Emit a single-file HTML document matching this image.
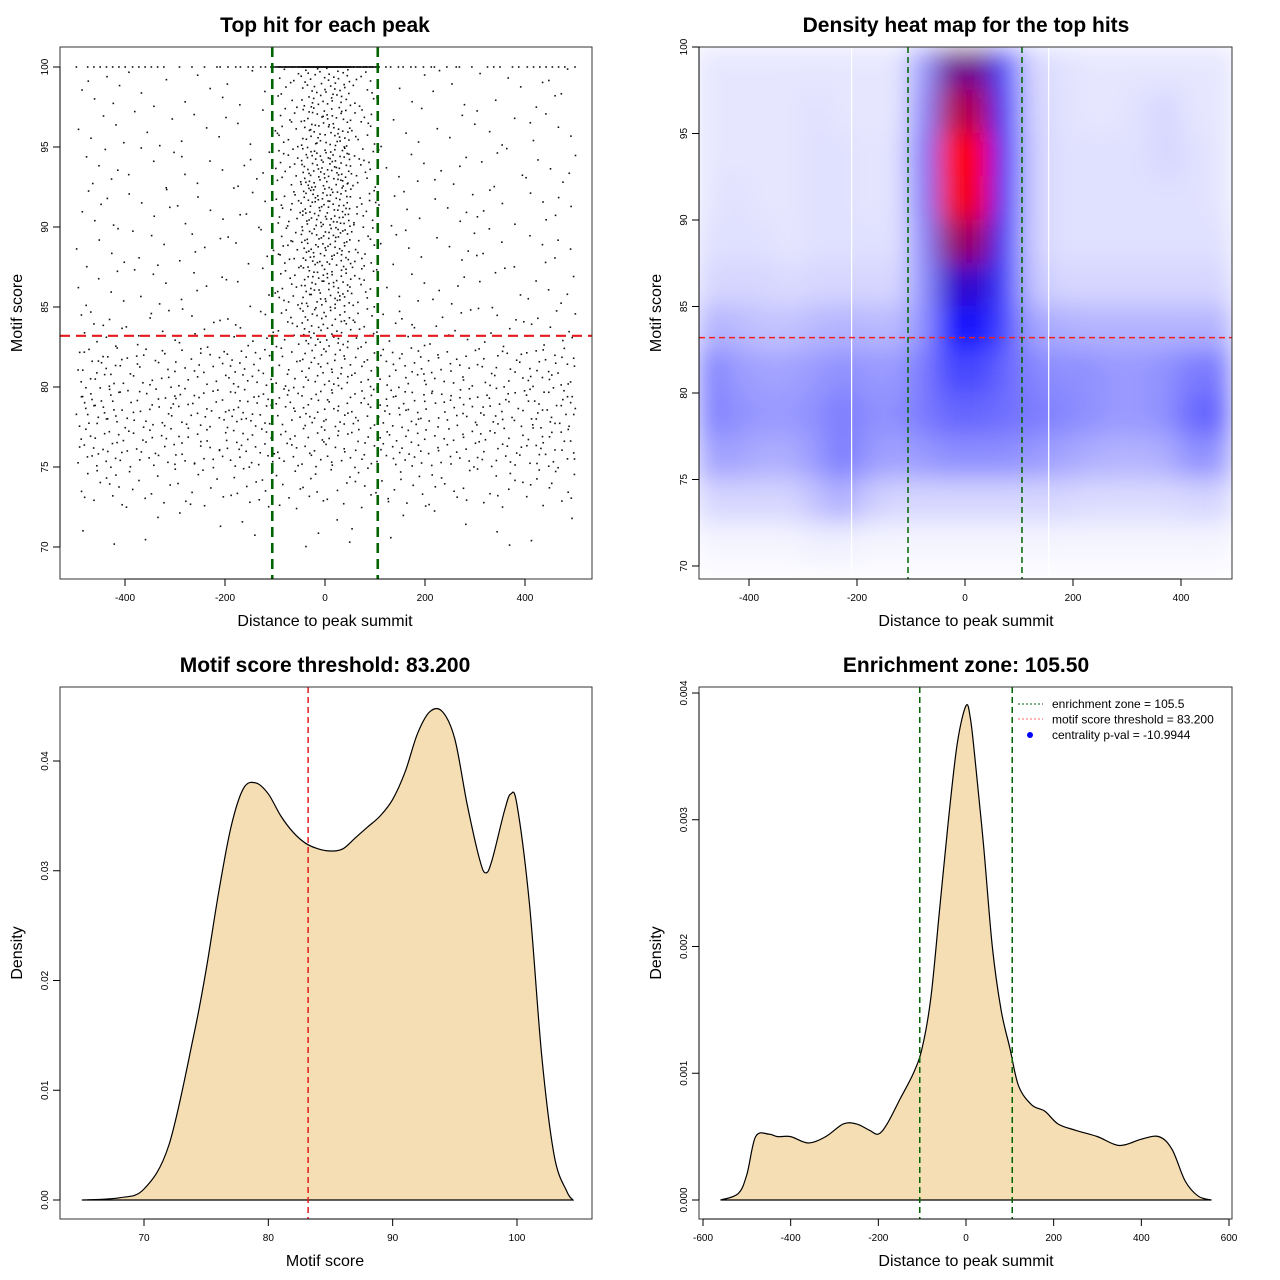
<!DOCTYPE html>
<html><head><meta charset="utf-8"><style>
html,body{margin:0;padding:0;background:#fff;}
svg{display:block;font-family:"Liberation Sans",sans-serif;}
</style></head><body>
<svg id="chart" width="1280" height="1280" viewBox="0 0 1280 1280">
<defs>
<filter id="blur" x="-5%" y="-5%" width="110%" height="110%"><feGaussianBlur stdDeviation="13"/></filter>
<clipPath id="clip2"><rect x="699" y="47" width="533" height="532"/></clipPath>
</defs>
</svg>
<script>
// ---------- DATA ----------
const scatterXEdges = [-500,-400,-300,-200,-100,-50,0,50,100,200,300,400,500];
const scatterYBins = [97.5,95,92.5,90,87.5,85,82.5,80,77.5,75,72.5,70];
const scatterCounts = [
 [6,4,4,4,10,25,28,10,4,4,4,6],
 [5,4,4,5,12,30,32,12,5,4,4,5],
 [6,5,5,6,15,38,40,15,6,5,5,6],
 [6,5,5,6,15,40,40,15,6,5,5,6],
 [6,5,5,6,14,36,36,14,6,5,5,6],
 [6,5,5,6,13,32,32,13,6,5,5,6],
 [10,8,8,10,12,24,24,12,10,8,8,10],
 [25,20,20,25,12,18,18,12,25,20,20,25],
 [30,25,25,28,14,16,16,14,28,25,25,30],
 [25,22,22,25,12,13,13,12,25,22,22,25],
 [12,10,10,12,6,6,6,6,12,10,10,12],
 [2,2,2,2,1,2,2,1,2,2,2,2]
];
const scatterTopRow = [8,6,5,8,20,40,40,20,8,6,5,8];
const heatXBins = [-500,-450,-400,-350,-300,-250,-200,-150,-100,-50,0,50,100,150,200,250,300,350,400,450];
const heatYBins = [97.5,95,92.5,90,87.5,85,82.5,80,77.5,75,72.5,70];
const heatValues = [
 [.05,.05,.05,.05,.05,.05,.05,.05,.2,.72,.72,.35,.08,.06,.05,.05,.05,.05,.05,.05],
 [.05,.05,.05,.05,.06,.05,.05,.05,.24,.85,.85,.4,.09,.06,.05,.05,.06,.08,.05,.05],
 [.05,.05,.05,.05,.06,.06,.05,.06,.28,1,1,.45,.1,.06,.06,.06,.06,.08,.06,.05],
 [.05,.06,.05,.05,.06,.06,.05,.06,.27,.98,.98,.44,.1,.06,.06,.06,.06,.06,.06,.05],
 [.06,.06,.06,.05,.06,.06,.06,.06,.24,.8,.8,.4,.1,.06,.06,.06,.06,.06,.06,.06],
 [.08,.08,.08,.07,.08,.08,.08,.08,.22,.6,.6,.38,.12,.08,.08,.08,.08,.08,.08,.08],
 [.15,.14,.12,.12,.14,.15,.14,.14,.22,.48,.48,.36,.18,.16,.15,.15,.15,.15,.15,.15],
 [.25,.2,.18,.18,.2,.22,.2,.2,.26,.36,.36,.3,.24,.22,.22,.2,.2,.22,.26,.26],
 [.25,.22,.2,.2,.22,.26,.22,.22,.26,.3,.3,.28,.26,.24,.22,.2,.2,.22,.3,.3],
 [.18,.18,.16,.16,.2,.26,.2,.18,.2,.22,.22,.22,.2,.18,.16,.15,.15,.16,.22,.2],
 [.08,.08,.08,.08,.12,.16,.1,.08,.08,.08,.08,.08,.08,.08,.07,.07,.07,.07,.08,.08],
 [.02,.02,.02,.02,.03,.03,.02,.02,.02,.02,.02,.02,.02,.02,.02,.02,.02,.02,.02,.02]
];
const scoreX = [65,68,70,72,74,75,76,77,78,79,80,81,82,83,84,85,86,87,88,89,90,91,92,93,94,95,96,97,97.5,98,99,99.5,100,101,102,103,104,104.5];
const scoreDensity = [0,0.0002,0.001,0.005,0.015,0.021,0.028,0.034,0.0375,0.038,0.037,0.035,0.0335,0.0325,0.032,0.0318,0.032,0.033,0.034,0.035,0.0365,0.039,0.0425,0.0445,0.0445,0.042,0.036,0.031,0.0298,0.031,0.0355,0.037,0.036,0.027,0.013,0.004,0.0008,0];
const distX = [-560,-520,-500,-480,-450,-430,-400,-360,-320,-280,-250,-220,-200,-180,-150,-120,-100,-80,-60,-40,-20,0,10,20,40,60,80,100,120,150,180,210,250,300,350,400,440,470,500,530,560];
const distDensity = [0,0.00005,0.0002,0.0005,0.00052,0.0005,0.0005,0.00045,0.0005,0.0006,0.0006,0.00055,0.00052,0.0006,0.0008,0.001,0.0012,0.0016,0.0023,0.003,0.0036,0.0039,0.0038,0.0035,0.0028,0.002,0.0015,0.0012,0.0009,0.00075,0.0007,0.0006,0.00055,0.0005,0.00043,0.00048,0.0005,0.0004,0.00015,0.00003,0];
const threshold = 83.2;
const zone = 105.5;
const ticksDistP1 = [-400,-200,0,200,400];
const ticksScoreY = [70,75,80,85,90,95,100];
const ticksScoreX = [70,80,90,100];
const ticksDensY3 = [0,0.01,0.02,0.03,0.04];
const ticksDistP4 = [-600,-400,-200,0,200,400,600];
const ticksDensY4 = [0,0.001,0.002,0.003,0.004];

// ---------- HELPERS ----------
const svg = document.getElementById('chart');
const NS = 'http://www.w3.org/2000/svg';
function mk(tag, attrs, parent){const e=document.createElementNS(NS,tag);for(const k in attrs)e.setAttribute(k,attrs[k]);(parent||svg).appendChild(e);return e;}
function lin(d0,d1,r0,r1){return v=>r0+(v-d0)*(r1-r0)/(d1-d0);}
function halton(i,b){let f=1,r=0;while(i>0){f/=b;r+=f*(i%b);i=Math.floor(i/b);}return r;}
function smoothPath(pts){let d='M'+pts[0][0]+','+pts[0][1];for(let i=0;i<pts.length-1;i++){const p0=pts[Math.max(0,i-1)],p1=pts[i],p2=pts[i+1],p3=pts[Math.min(pts.length-1,i+2)];const c1=[p1[0]+(p2[0]-p0[0])/6,p1[1]+(p2[1]-p0[1])/6],c2=[p2[0]-(p3[0]-p1[0])/6,p2[1]-(p3[1]-p1[1])/6];d+=' C'+c1[0]+','+c1[1]+' '+c2[0]+','+c2[1]+' '+p2[0]+','+p2[1];}return d;}
function text(str,x,y,size,opts){const t=mk('text',Object.assign({x:x,y:y,'font-size':size,'text-anchor':'middle',fill:'#000'},opts||{}));t.textContent=str;return t;}
function frame(x,y,w,h,name){const r=mk('rect',{x:x,y:y,width:w,height:h,fill:'none',stroke:'#333','stroke-width':1});}
function xAxis(ticks,sx,y0,name,fmt){const g=mk('g',{});
 mk('line',{x1:sx(ticks[0]),x2:sx(ticks[ticks.length-1]),y1:y0,y2:y0,stroke:'#000'},g);
 ticks.forEach(t=>{mk('line',{x1:sx(t),x2:sx(t),y1:y0,y2:y0+7,stroke:'#000'},g);const l=text(fmt?fmt(t):String(t),sx(t),y0+22,10,{});g.appendChild(l);});}
function yAxis(ticks,sy,x0,name,fmt){const g=mk('g',{});
 mk('line',{x1:x0,x2:x0,y1:sy(ticks[0]),y2:sy(ticks[ticks.length-1]),stroke:'#000'},g);
 ticks.forEach(t=>{mk('line',{x1:x0,x2:x0-7,y1:sy(t),y2:sy(t),stroke:'#000'},g);const l=text(fmt?fmt(t):String(t),0,0,10,{transform:'translate('+(x0-12)+','+sy(t)+') rotate(-90)'});g.appendChild(l);});}
function titles(t,cx,ty,xl,xly,yl,ylx,cy){let e=text(t,cx,ty,21,{'font-weight':'bold'});
 e=text(xl,cx,xly,16,{});
 e=text(yl,0,0,16,{transform:'translate('+ylx+','+cy+') rotate(-90)'});}

// ---------- PANEL 1: scatter ----------
{
 const sx=lin(0,400,325,525), sy=lin(70,100,547,67);
 const g=mk('g',{});
 let k=1;
 scatterCounts.forEach((row,ri)=>row.forEach((n,ci)=>{const x0=scatterXEdges[ci],w=scatterXEdges[ci+1]-x0;for(let i=0;i<n;i++){k++;const x=x0+w*halton(k,2),y=scatterYBins[ri]+2.5*halton(k,3);
  mk('rect',{x:sx(x),y:sy(y),width:1.6,height:1.6,fill:'#111'},g);}}));
 scatterTopRow.forEach((n,ci)=>{const x0=scatterXEdges[ci],w=scatterXEdges[ci+1]-x0;for(let i=0;i<n;i++){k++;const x=x0+w*halton(k,2);mk('rect',{x:sx(x),y:sy(100)-0.8,width:1.6,height:1.6,fill:'#111'},g);}});
 mk('line',{x1:sx(-110),x2:sx(110),y1:sy(100),y2:sy(100),stroke:'#111','stroke-width':1.5},g);
 let l=mk('line',{x1:60,x2:592,y1:sy(threshold),y2:sy(threshold),stroke:'#e41a1c','stroke-width':2.2,'stroke-dasharray':'10,6'});
 [-zone,zone].forEach(z=>{l=mk('line',{x1:sx(z),x2:sx(z),y1:47,y2:579,stroke:'#006400','stroke-width':2.6,'stroke-dasharray':'10,6'});});
 frame(60,47,532,532,'scatter-plot-frame');
 xAxis(ticksDistP1,sx,579,'x-axis');
 yAxis(ticksScoreY,sy,60,'y-axis');
 titles('Top hit for each peak',325,32,'Distance to peak summit',626,'Motif score',22,313);
}
// ---------- PANEL 2: heatmap ----------
{
 const sx=lin(0,200,965,1073), sy=lin(70,100,566,47);
 const g=mk('g',{'clip-path':'url(#clip2)'});
 const inner=mk('g',{filter:'url(#blur)'},g);
 function col(v){v=Math.max(0,Math.min(1,v));let r,gg,b;if(v<0.5){const t=v/0.5;r=255*(1-t);gg=255*(1-t);b=255;}else{const t=(v-0.5)/0.5;r=255*t;gg=0;b=255*(1-t);}return 'rgb('+Math.round(r)+','+Math.round(gg)+','+Math.round(b)+')';}
 mk('rect',{x:650,y:0,width:640,height:620,fill:'#fff'},inner);
 heatValues.forEach((row,ri)=>row.forEach((v,ci)=>{const x0=sx(heatXBins[ci]),x1=sx(heatXBins[ci]+50);const y1=sy(heatYBins[ri]),y0=sy(heatYBins[ri]+2.5);
  mk('rect',{x:x0-0.5,y:y0-0.5,width:x1-x0+1,height:y1-y0+1,fill:col(v)},inner);}));
 [-210,155].forEach(v=>mk('line',{x1:sx(v),x2:sx(v),y1:47,y2:579,stroke:'#fff','stroke-width':1.2},g));
 let l=mk('line',{x1:699,x2:1232,y1:sy(threshold),y2:sy(threshold),stroke:'#ee2222','stroke-width':1.5,'stroke-dasharray':'6,4'});
 [-zone,zone].forEach(z=>{l=mk('line',{x1:sx(z),x2:sx(z),y1:47,y2:579,stroke:'#006400','stroke-width':1.5,'stroke-dasharray':'6,4'});});
 frame(699,47,533,532,'heatmap-frame');
 xAxis([-400,-200,0,200,400],sx,579,'x-axis');
 yAxis(ticksScoreY,sy,699,'y-axis');
 titles('Density heat map for the top hits',966,32,'Distance to peak summit',626,'Motif score',661,313);
}
// ---------- PANEL 3: score density ----------
{
 const sx=lin(70,100,144,517), sy=lin(0,0.04,1200,761);
 const pts=scoreX.map((x,i)=>[sx(x),sy(scoreDensity[i])]);
 const a=mk('path',{d:smoothPath(pts)+' Z',fill:'#f5deb3',stroke:'#000','stroke-width':1.2});
 let l=mk('line',{x1:sx(threshold),x2:sx(threshold),y1:687,y2:1219,stroke:'#e41a1c','stroke-width':1.5,'stroke-dasharray':'6,4'});
 frame(60,687,532,532,'score-density-frame');
 xAxis(ticksScoreX,sx,1219,'x-axis');
 yAxis(ticksDensY3,sy,60,'y-axis',t=>t.toFixed(2));
 titles('Motif score threshold: 83.200',325,672,'Motif score',1266,'Density',22,953);
}
// ---------- PANEL 4: distance density ----------
{
 const sx=lin(0,600,966,1229), sy=lin(0,0.004,1200,693);
 const pts=distX.map((x,i)=>[sx(x),sy(distDensity[i])]);
 const a=mk('path',{d:smoothPath(pts)+' Z',fill:'#f5deb3',stroke:'#000','stroke-width':1.2});
 [-zone,zone].forEach(z=>{const l=mk('line',{x1:sx(z),x2:sx(z),y1:687,y2:1219,stroke:'#006400','stroke-width':1.5,'stroke-dasharray':'6,4'});});
 frame(699,687,533,532,'distance-density-frame');
 xAxis(ticksDistP4,sx,1219,'x-axis');
 yAxis(ticksDensY4,sy,699,'y-axis',t=>t.toFixed(3));
 titles('Enrichment zone: 105.50',966,672,'Distance to peak summit',1266,'Density',661,953);
 const lg=mk('g',{});
 mk('line',{x1:1018,x2:1043,y1:704,y2:704,stroke:'#006400','stroke-dasharray':'2,2'},lg);
 mk('line',{x1:1018,x2:1043,y1:719,y2:719,stroke:'#ff6666','stroke-dasharray':'2,2'},lg);
 mk('circle',{cx:1030,cy:735,r:3,fill:'#0000ff'},lg);
 const labels=['enrichment zone = 105.5','motif score threshold = 83.200','centrality p-val = -10.9944'];
 labels.forEach((s,i)=>{const t=text(s,1052,708+i*15.5,12,{'text-anchor':'start'});lg.appendChild(t);});
}
</script>
</body></html>
